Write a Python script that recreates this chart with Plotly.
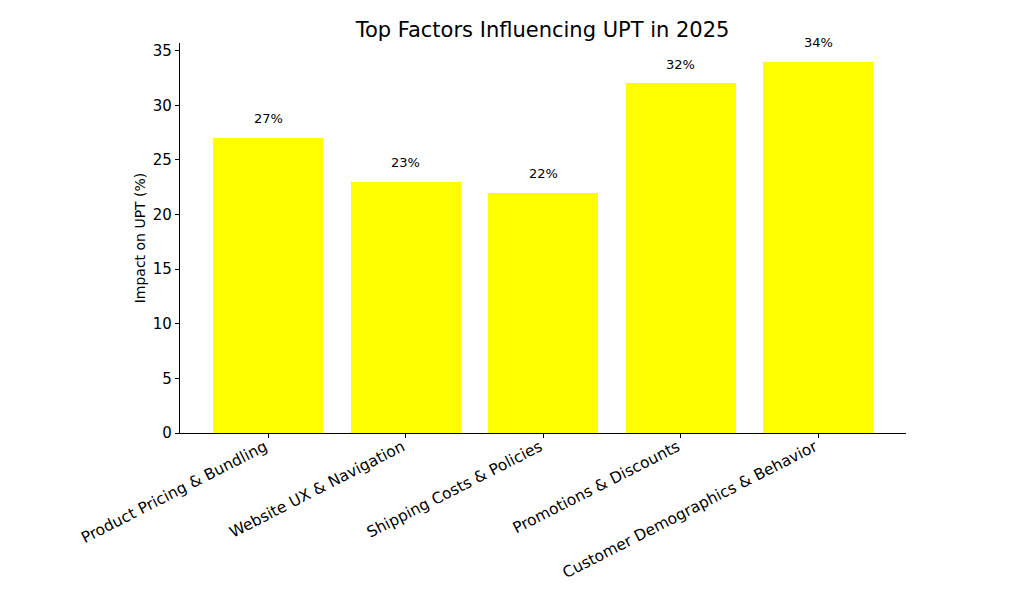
import plotly.graph_objects as go

categories = ["Product Pricing & Bundling", "Website UX & Navigation", "Shipping Costs & Policies",
              "Promotions & Discounts", "Customer Demographics & Behavior"]
values = [27, 23, 22, 32, 34]
labels = [f"{v}%" for v in values]

fig = go.Figure()
fig.add_trace(go.Bar(x=list(range(len(categories))), y=values, width=0.8,
                     marker=dict(color="#ffff00", line=dict(width=0)), showlegend=False))
for i, (v, t) in enumerate(zip(values, labels)):
    fig.add_annotation(x=i, y=v + 0.9, text=t, showarrow=False, yanchor="bottom",
                       font=dict(family="DejaVu Sans", size=13, color="black"))

fig.update_layout(
    width=1032, height=606,
    margin=dict(l=172, r=134, t=35, b=181),
    plot_bgcolor="white", paper_bgcolor="white",
    font=dict(family="DejaVu Sans", color="black"),
    title=dict(text="Top Factors Influencing UPT in 2025", x=0.518, xanchor="center",
               y=0.964, yanchor="middle", font=dict(size=21)),
    bargap=0,
)
fig.update_xaxes(range=[-0.64, 4.64], tickvals=list(range(len(categories))), ticktext=categories,
                 tickangle=-27, tickfont=dict(size=15.5), showline=True, linecolor="black", linewidth=1.2,
                 ticks="outside", ticklen=4, tickcolor="black", showgrid=False, zeroline=False,
                 ticklabelstandoff=-6, ticklabelshift=-3)
fig.update_yaxes(range=[0, 35.7], tickvals=[0, 5, 10, 15, 20, 25, 30, 35], tickfont=dict(size=15),
                 showline=True, linecolor="black", linewidth=1.2, ticks="outside", ticklen=4,
                 tickcolor="black", showgrid=False, zeroline=False,
                 title=dict(text="Impact on UPT (%)", font=dict(size=14), standoff=3))
fig.write_html("out.html")
